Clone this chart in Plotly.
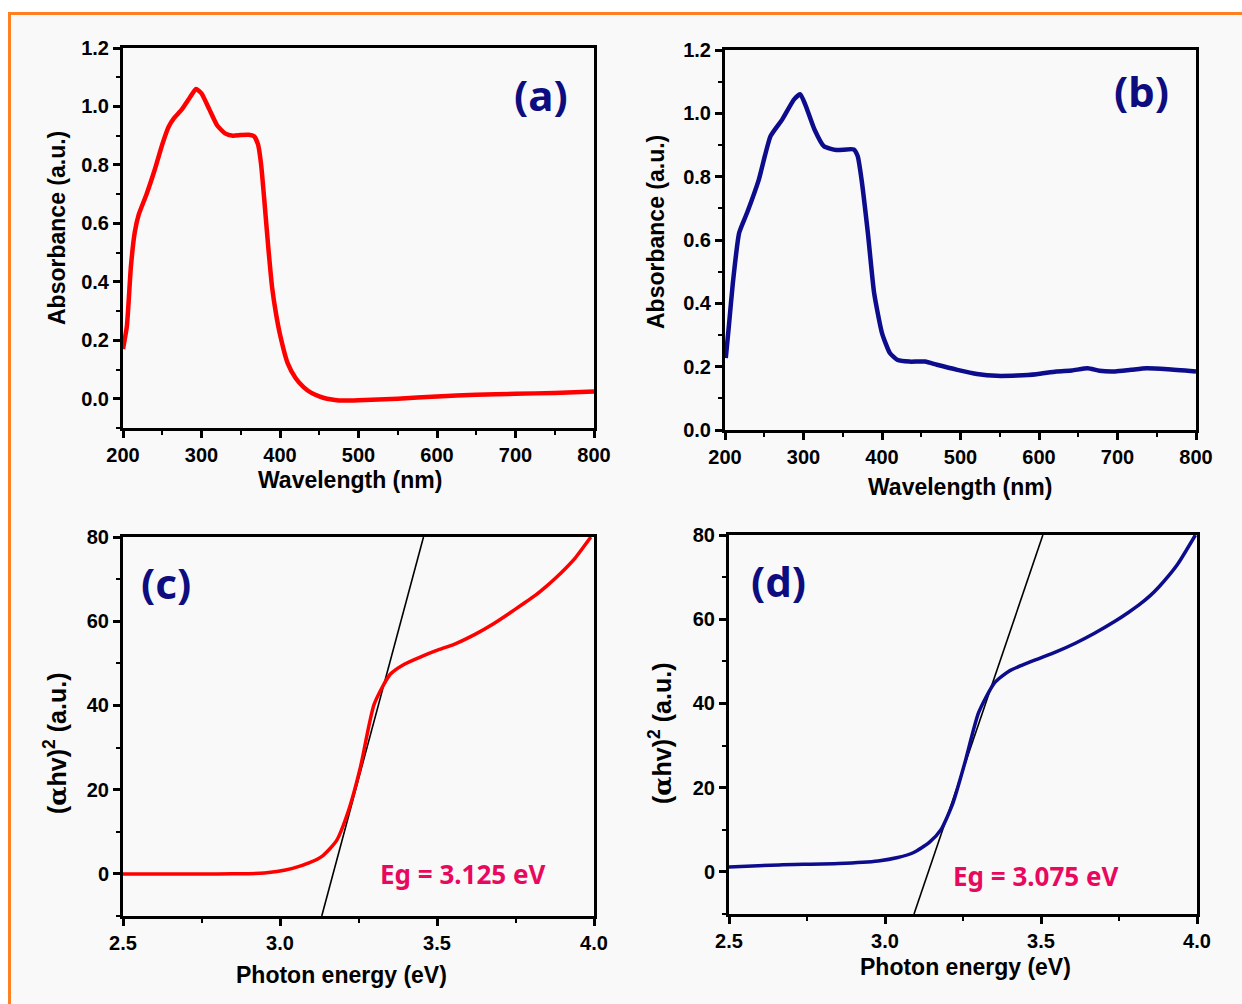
import plotly.graph_objects as go

W, H = 1242, 1004

# ---------------- data ----------------
wl_a = [200, 205, 210, 215, 220, 230, 240, 250, 258, 265, 275, 285, 293, 300, 310, 320,
        330, 340, 350, 360, 367, 372, 376, 380, 385, 390, 395, 400, 410, 420, 430, 440,
        450, 460, 470, 480, 500, 550, 600, 650, 700, 750, 800]
abs_a = [0.17, 0.25, 0.45, 0.57, 0.63, 0.70, 0.78, 0.87, 0.93, 0.96, 0.99, 1.03, 1.06, 1.045, 0.99, 0.935,
         0.908, 0.90, 0.902, 0.903, 0.898, 0.87, 0.80, 0.68, 0.52, 0.38, 0.29, 0.22, 0.12, 0.07, 0.04, 0.02,
         0.008, 0.0, -0.004, -0.006, -0.005, 0.0, 0.008, 0.014, 0.017, 0.02, 0.025]

wl_b = [201, 205, 210, 218, 228, 243, 258, 273, 288, 296, 303, 314, 326, 342, 364, 369,
        374, 382, 390, 400, 410, 420, 435, 455, 470, 496, 521, 546, 572, 597, 622, 642,
        662, 677, 697, 717, 737, 764, 800]
abs_b = [0.227, 0.33, 0.464, 0.622, 0.685, 0.79, 0.928, 0.981, 1.044, 1.06, 1.023, 0.949, 0.896, 0.884, 0.886, 0.865,
         0.79, 0.622, 0.432, 0.306, 0.243, 0.221, 0.216, 0.216, 0.206, 0.19, 0.177, 0.171, 0.172, 0.176, 0.185, 0.188,
         0.195, 0.187, 0.185, 0.19, 0.195, 0.192, 0.185]

e_c = [2.5, 2.6, 2.7, 2.8, 2.9, 2.95, 2.99, 3.04, 3.092, 3.136, 3.18, 3.218, 3.256, 3.30, 3.351,
       3.396, 3.45, 3.497, 3.56, 3.624, 3.68, 3.725, 3.77, 3.814, 3.85, 3.877, 3.91, 3.94, 3.99]
tauc_c = [0.0, 0.0, 0.0, 0.0, 0.05, 0.2, 0.55, 1.3, 2.6, 4.3, 7.9, 15.0, 25.3, 40.3, 47.4,
          49.8, 51.6, 53.0, 54.7, 57.0, 59.4, 61.6, 63.9, 66.2, 68.4, 70.2, 72.6, 75.0, 80.0]

e_d = [2.5, 2.661, 2.851, 2.978, 3.041, 3.092, 3.142, 3.18, 3.218, 3.256, 3.30, 3.351, 3.396,
       3.44, 3.484, 3.55, 3.61, 3.67, 3.737, 3.78, 3.814, 3.85, 3.877, 3.91, 3.94, 3.995]
tauc_d = [1.18, 1.66, 2.0, 2.6, 3.4, 4.6, 7.0, 10.1, 16.4, 25.9, 37.8, 44.9, 47.6,
          49.1, 50.4, 52.3, 54.3, 56.6, 59.5, 61.6, 63.4, 65.6, 67.6, 70.4, 73.3, 80.0]

tangent_c_x = [3.133, 3.457]
tangent_c_y = [-10, 80]
tangent_d_x = [3.093, 3.506]
tangent_d_y = [-10, 80]

panel_labels = ["(a)", "(b)", "(c)", "(d)"]
eg_labels = ["Eg = 3.125 eV", "Eg = 3.075 eV"]
x_titles = ["Wavelength (nm)", "Wavelength (nm)", "Photon energy (eV)", "Photon energy (eV)"]
ALPHA = "<span style='font-family:DejaVu Serif'>\u03b1</span>"
y_titles = ["Absorbance (a.u.)", "Absorbance (a.u.)",
            "(" + ALPHA + "hv)<sup>2</sup> (a.u.)", "(" + ALPHA + "hv)<sup>2</sup> (a.u.)"]

RED = "#ff0000"
NAVY = "#0c0c8c"
LABEL_NAVY = "#0d0d80"
EG_COLOR = "#e8095f"
BG = "#f9f9f9"
ORANGE = "#ff8020"


def px(x):
    return x / W


def py(y):
    return 1 - y / H


fig = go.Figure()

fig.add_trace(go.Scatter(x=wl_a, y=abs_a, mode="lines", line=dict(color=RED, width=4.5, shape="spline", smoothing=0.5),
                         xaxis="x", yaxis="y", showlegend=False))
fig.add_trace(go.Scatter(x=wl_b, y=abs_b, mode="lines", line=dict(color=NAVY, width=4.5, shape="spline", smoothing=0.5),
                         xaxis="x2", yaxis="y2", showlegend=False))
fig.add_trace(go.Scatter(x=tangent_c_x, y=tangent_c_y, mode="lines", line=dict(color="black", width=1.6),
                         xaxis="x3", yaxis="y3", showlegend=False))
fig.add_trace(go.Scatter(x=e_c, y=tauc_c, mode="lines", line=dict(color=RED, width=3.5, shape="spline", smoothing=0.6),
                         xaxis="x3", yaxis="y3", showlegend=False))
fig.add_trace(go.Scatter(x=tangent_d_x, y=tangent_d_y, mode="lines", line=dict(color="black", width=1.6),
                         xaxis="x4", yaxis="y4", showlegend=False))
fig.add_trace(go.Scatter(x=e_d, y=tauc_d, mode="lines", line=dict(color=NAVY, width=3.5, shape="spline", smoothing=0.6),
                         xaxis="x4", yaxis="y4", showlegend=False))

tickfont = dict(family="Liberation Sans, Arial, sans-serif", size=20, color="black", weight="bold")


def axis(domain, rng, dtick, tick0, minor_dtick, fmt, anchor):
    return dict(domain=domain, range=rng, dtick=dtick, tick0=tick0, automargin=False,
                tickformat=fmt, showline=True, linewidth=3, linecolor="black", mirror=True,
                ticks="outside", ticklen=7, tickwidth=2.5, tickcolor="black",
                showgrid=False, zeroline=False, tickfont=tickfont, anchor=anchor,
                minor=dict(ticks="outside", ticklen=4, tickwidth=2, tickcolor="black", dtick=minor_dtick,
                           showgrid=False))


# pixel boxes of the four plot areas: (left, right, top, bottom)
boxes = [(123, 594, 48, 428), (725, 1196, 50, 430), (123, 594, 537, 916), (729, 1197, 535, 914)]
dx = [[px(b[0]), px(b[1])] for b in boxes]
dy = [[py(b[3]), py(b[2])] for b in boxes]

fig.update_layout(
    xaxis=axis(dx[0], [200, 800], 100, 200, 50, "d", "y"),
    yaxis=axis(dy[0], [-0.1, 1.2], 0.2, 0, 0.1, ".1f", "x"),
    xaxis2=axis(dx[1], [200, 800], 100, 200, 50, "d", "y2"),
    yaxis2=axis(dy[1], [0, 1.2], 0.2, 0, 0.1, ".1f", "x2"),
    xaxis3=axis(dx[2], [2.5, 4.0], 0.5, 2.5, 0.25, ".1f", "y3"),
    yaxis3=axis(dy[2], [-10, 80], 20, 0, 10, "d", "x3"),
    xaxis4=axis(dx[3], [2.5, 4.0], 0.5, 2.5, 0.25, ".1f", "y4"),
    yaxis4=axis(dy[3], [-10, 80], 20, 0, 10, "d", "x4"),
)

annotations = []
title_font = dict(family="Liberation Sans, Arial, sans-serif", size=23, color="black", weight="bold")
tauc_font = dict(family="Liberation Sans, Arial, sans-serif", size=25, color="black", weight="bold")
# x titles (center x, center y)
xt_pos = [(350, 480), (960, 487), (341, 975), (965, 967)]
for t, (x, y) in zip(x_titles, xt_pos):
    annotations.append(dict(text=t, x=px(x), y=py(y), xref="paper", yref="paper", showarrow=False,
                            font=title_font, xanchor="center", yanchor="middle"))
yt_pos = [(57, 228), (656, 232), (55, 744), (660, 734)]
for i, (t, (x, y)) in enumerate(zip(y_titles, yt_pos)):
    annotations.append(dict(text=t, x=px(x), y=py(y), xref="paper", yref="paper", showarrow=False,
                            font=title_font if i < 2 else tauc_font, textangle=-90,
                            xanchor="center", yanchor="middle"))

lab_font = dict(family="Noto Sans, Open Sans, sans-serif", size=42, color=LABEL_NAVY, weight="bold")
lab_pos = [(541, 94), (1141, 90), (166, 582), (778, 580)]
for t, (x, y) in zip(panel_labels, lab_pos):
    annotations.append(dict(text=t, x=px(x), y=py(y), xref="paper", yref="paper", showarrow=False,
                            font=lab_font, xanchor="center", yanchor="middle"))

eg_font = dict(family="Noto Sans, Open Sans, sans-serif", size=26, color=EG_COLOR, weight="bold")
eg_pos = [(462, 874), (1035, 876)]
for t, (x, y) in zip(eg_labels, eg_pos):
    annotations.append(dict(text=t, x=px(x), y=py(y), xref="paper", yref="paper", showarrow=False,
                            font=eg_font, xanchor="center", yanchor="middle"))

shapes = [
    dict(type="rect", xref="paper", yref="paper", x0=px(10), x1=1, y0=0, y1=py(14),
         fillcolor=BG, line=dict(width=0), layer="below"),
    dict(type="line", xref="paper", yref="paper", x0=px(8), x1=1, y0=py(13.5), y1=py(13.5),
         line=dict(color=ORANGE, width=3), layer="below"),
    dict(type="line", xref="paper", yref="paper", x0=px(9.5), x1=px(9.5), y0=0, y1=py(12),
         line=dict(color=ORANGE, width=3), layer="below"),
]

fig.update_layout(
    width=W, height=H, margin=dict(l=0, r=0, t=0, b=0, autoexpand=False),
    paper_bgcolor="white", plot_bgcolor=BG,
    annotations=annotations, shapes=shapes, showlegend=False,
)

post = ("document.documentElement.style.margin='0';document.documentElement.style.padding='0';"
        "document.body.style.margin='0';document.body.style.padding='0';"
        "document.body.style.overflow='hidden';")

fig.write_html("out.html", post_script=post)
